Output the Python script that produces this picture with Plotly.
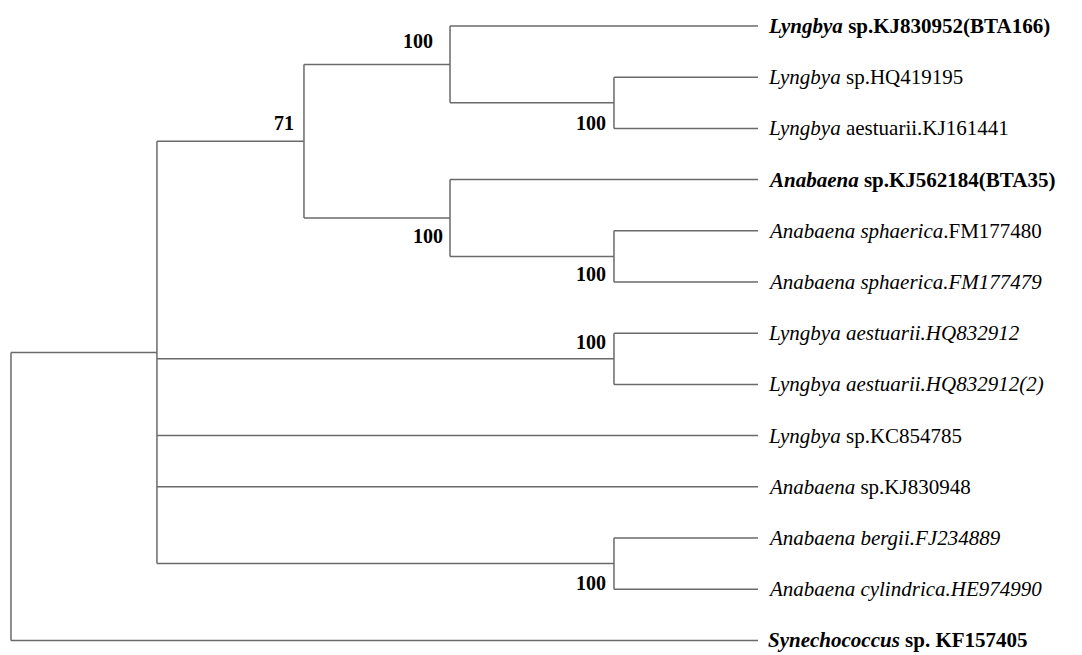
import plotly.graph_objects as go

# ---- tree data -------------------------------------------------------------
# Leaves, listed top to bottom (row index = order in this list)
leaf_ids = ["L0", "L1", "L2", "L3", "L4", "L5", "L6",
            "L7", "L8", "L9", "L10", "L11", "L12"]
leaf_labels = [
    "<b><i>Lyngbya</i> sp.KJ830952(BTA166)</b>",
    "<i>Lyngbya</i> sp.HQ419195",
    "<i>Lyngbya</i> aestuarii.KJ161441",
    "<b><i>Anabaena</i> sp.KJ562184(BTA35)</b>",
    "<i>Anabaena sphaerica</i>.FM177480",
    "<i>Anabaena sphaerica.FM177479</i>",
    "<i>Lyngbya aestuarii.HQ832912</i>",
    "<i>Lyngbya aestuarii.HQ832912(2)</i>",
    "<i>Lyngbya</i> sp.KC854785",
    "<i>Anabaena</i> sp.KJ830948",
    "<i>Anabaena bergii.FJ234889</i>",
    "<i>Anabaena cylindrica.HE974990</i>",
    "<b><i>Synechococcus</i> sp. KF157405</b>",
]
# distance of each leaf from the root
leaf_depth = [1.0, 1.0, 1.0, 1.0, 1.0, 1.0, 1.0,
              1.0, 1.0, 1.0, 1.0, 1.0, 1.0]

# Internal nodes: id, distance from root, children (top to bottom), bootstrap
node_ids = ["root", "A", "n71", "nLyn", "nLynAe", "nAna", "nSph", "nHQ", "nBerg"]
node_depth = [0.0, 0.1954, 0.3922, 0.5877, 0.8072, 0.5877, 0.8072, 0.8072, 0.8072]
node_children = [
    ["A", "L12"],
    ["n71", "nHQ", "L8", "L9", "nBerg"],
    ["nLyn", "nAna"],
    ["L0", "nLynAe"],
    ["L1", "L2"],
    ["L3", "nSph"],
    ["L4", "L5"],
    ["L6", "L7"],
    ["L10", "L11"],
]
node_support = [None, None, 71, 100, 100, 100, 100, 100, 100]

# ---- layout of the tree ----------------------------------------------------
pos_x, pos_y = {}, {}
for i, lid in enumerate(leaf_ids):
    pos_x[lid] = leaf_depth[i]
    pos_y[lid] = float(i)
children_of = dict(zip(node_ids, node_children))
for nid, d in zip(node_ids, node_depth):
    pos_x[nid] = d


def place(nid):
    if nid in pos_y:
        return pos_y[nid]
    ys = [place(c) for c in children_of[nid]]
    pos_y[nid] = (ys[0] + ys[-1]) / 2.0
    return pos_y[nid]


place("root")

xs, ys = [], []
for nid in node_ids:
    kids = children_of[nid]
    x0 = pos_x[nid]
    # vertical connector
    xs += [x0, x0, None]
    ys += [pos_y[kids[0]], pos_y[kids[-1]], None]
    # horizontal branches to children
    for c in kids:
        xs += [x0, pos_x[c], None]
        ys += [pos_y[c], pos_y[c], None]

fig = go.Figure()
fig.add_trace(go.Scatter(
    x=xs, y=ys, mode="lines",
    line=dict(color="#6a6a6a", width=1.5),
    hoverinfo="skip", showlegend=False,
))

serif = "Liberation Serif, Times New Roman, serif"

# leaf names
for i, lid in enumerate(leaf_ids):
    fig.add_annotation(
        x=pos_x[lid], y=pos_y[lid], text=leaf_labels[i],
        xanchor="left", yanchor="middle", xshift=8, showarrow=False,
        font=dict(family=serif, size=21, color="#000000"),
    )

# bootstrap values (label above or below the node's branch)
support_offset = {
    "n71": (-8, 18), "nLyn": (-15, 23), "nLynAe": (-6, -20),
    "nAna": (-5, -18), "nSph": (-6, -18), "nHQ": (-6, 17), "nBerg": (-6, -19),
}
for nid, s in zip(node_ids, node_support):
    if s is None:
        continue
    dx, dy = support_offset[nid]
    fig.add_annotation(
        x=pos_x[nid], y=pos_y[nid], text=f"<b>{s}</b>",
        xanchor="right", yanchor="middle", xshift=dx, yshift=dy,
        showarrow=False,
        font=dict(family=serif, size=20, color="#000000"),
    )

fig.update_layout(
    width=1082, height=655,
    margin=dict(l=0, r=0, t=0, b=0),
    paper_bgcolor="white", plot_bgcolor="white",
    xaxis=dict(range=[-0.0147, 1.4337], visible=False, fixedrange=True),
    yaxis=dict(range=[12.285, -0.5078], visible=False, fixedrange=True),
)

fig.write_html("out.html")
